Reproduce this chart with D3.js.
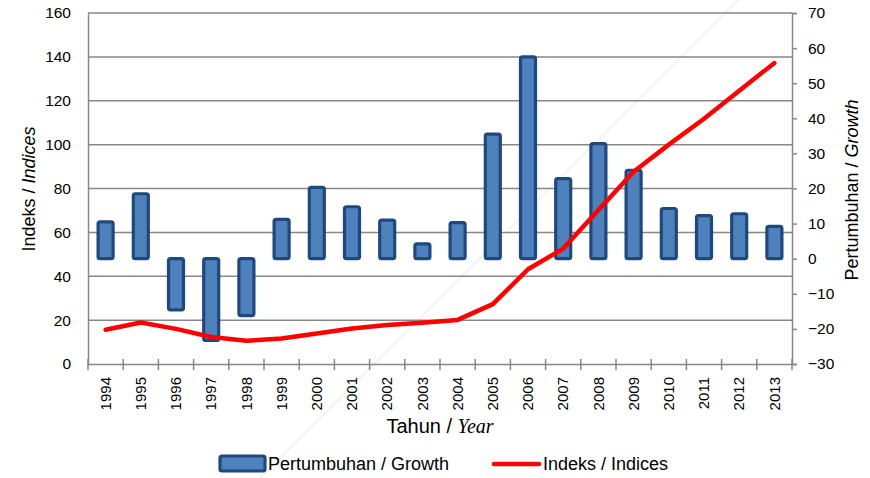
<!DOCTYPE html>
<html>
<head>
<meta charset="utf-8">
<script src="https://cdn.jsdelivr.net/npm/d3@7"></script>
<style>
  body { margin: 0; background: #fff; }
  svg { display: block; font-family: "Liberation Sans", Arial, sans-serif; }
</style>
</head>
<body>
<svg width="870" height="478"></svg>
<script>
// données
var years = ["1994","1995","1996","1997","1998","1999","2000","2001","2002","2003",
             "2004","2005","2006","2007","2008","2009","2010","2011","2012","2013"];
var growth = [10.5, 18.5, -14.6, -23.3, -16.2, 11.2, 20.3, 14.8, 11.0, 4.2,
              10.3, 35.5, 57.5, 22.8, 32.8, 25.2, 14.3, 12.3, 12.8, 9.2];
var indices = [15.6, 18.9, 16.0, 12.3, 10.6, 11.6, 13.9, 16.2, 17.8, 18.8,
               20.1, 27.3, 43.2, 52.6, 70.2, 87.6, 100.0, 111.8, 124.6, 137.2];
var leftTicks = [0, 20, 40, 60, 80, 100, 120, 140, 160];
var rightTicks = [-30, -20, -10, 0, 10, 20, 30, 40, 50, 60, 70];

var svg = d3.select("svg");
var plotLeft = 88, plotRight = 792, plotTop = 13, plotBottom = 364;
var gridColor = "#878787";

var x = d3.scaleBand().domain(years).range([plotLeft, plotRight]);
var yL = d3.scaleLinear().domain([0, 160]).range([plotBottom, plotTop]);
var yR = d3.scaleLinear().domain([-30, 70]).range([plotBottom, plotTop]);

// trait diagonal pâle (artefact du scan)
svg.append("line")
    .attr("x1", 738).attr("y1", 0)
    .attr("x2", 260).attr("y2", 478)
    .attr("stroke", "#ebebeb")
    .attr("stroke-width", 1.2);

// grille horizontale
svg.append("g").selectAll("line")
    .data(leftTicks.slice(1))
    .enter().append("line")
    .attr("x1", plotLeft).attr("x2", plotRight)
    .attr("y1", function(d) { return yL(d); })
    .attr("y2", function(d) { return yL(d); })
    .attr("stroke", gridColor)
    .attr("stroke-width", 1.5);

// axe gauche
var axL = svg.append("g")
    .attr("transform", "translate(" + plotLeft + ",0)")
    .call(d3.axisLeft(yL).tickValues(leftTicks).tickSize(0).tickPadding(17));
axL.select(".domain").attr("stroke", gridColor).attr("stroke-width", 1.5);
axL.selectAll("text").attr("font-size", "15.5px").attr("fill", "#000");

// axe droit
var axR = svg.append("g")
    .attr("transform", "translate(" + plotRight + ",0)")
    .call(d3.axisRight(yR).tickValues(rightTicks).tickSize(5).tickPadding(11));
axR.select(".domain").attr("stroke", gridColor).attr("stroke-width", 1.5);
axR.selectAll(".tick line").attr("stroke", gridColor).attr("stroke-width", 1.5);
axR.selectAll("text").attr("font-size", "15.5px").attr("fill", "#000");

// axe du bas
var axB = svg.append("g")
    .attr("transform", "translate(0," + plotBottom + ")")
    .call(d3.axisBottom(x).tickSize(0).tickPadding(0));
axB.select(".domain").attr("stroke", gridColor).attr("stroke-width", 1.5);
axB.selectAll(".tick line").remove();
axB.selectAll("text")
    .attr("font-size", "15px")
    .attr("fill", "#000")
    .attr("text-anchor", "end")
    .attr("y", 0)
    .attr("dy", "0.35em")
    .attr("transform", "translate(0,13) rotate(-90)");

// petites graduations entre les années
svg.append("g").selectAll("line")
    .data(d3.range(years.length + 1))
    .enter().append("line")
    .attr("x1", function(i) { return plotLeft + i * x.bandwidth(); })
    .attr("x2", function(i) { return plotLeft + i * x.bandwidth(); })
    .attr("y1", plotBottom - 5).attr("y2", plotBottom + 6)
    .attr("stroke", gridColor)
    .attr("stroke-width", 1.5);

// barres de croissance (axe droit)
var barW = 15;
svg.append("g").selectAll("rect")
    .data(growth)
    .enter().append("rect")
    .attr("x", function(d, i) { return x(years[i]) + x.bandwidth() / 2 - barW / 2; })
    .attr("y", function(d) { return Math.min(yR(d), yR(0)); })
    .attr("width", barW)
    .attr("height", function(d) { return Math.abs(yR(d) - yR(0)); })
    .attr("rx", 2)
    .attr("fill", "#4f81bd")
    .attr("stroke", "#1f497d")
    .attr("stroke-width", 3.2);

// courbe des indices (axe gauche)
var line = d3.line()
    .x(function(d, i) { return x(years[i]) + x.bandwidth() / 2; })
    .y(function(d) { return yL(d); });

svg.append("path")
    .datum(indices)
    .attr("d", line)
    .attr("fill", "none")
    .attr("stroke", "#ff0000")
    .attr("stroke-width", 4.5)
    .attr("stroke-linejoin", "round")
    .attr("stroke-linecap", "round");

// titres des axes
var tL = svg.append("text")
    .attr("transform", "translate(35,189) rotate(-90)")
    .attr("text-anchor", "middle")
    .attr("font-size", "18px");
tL.append("tspan").text("Indeks / ");
tL.append("tspan").attr("font-style", "italic").text("Indices");

var tR = svg.append("text")
    .attr("transform", "translate(858,190) rotate(-90)")
    .attr("text-anchor", "middle")
    .attr("font-size", "18px");
tR.append("tspan").text("Pertumbuhan / ");
tR.append("tspan").attr("font-style", "italic").text("Growth");

var tB = svg.append("text")
    .attr("x", 440).attr("y", 433)
    .attr("text-anchor", "middle")
    .attr("font-size", "20px");
tB.append("tspan").text("Tahun / ");
tB.append("tspan")
    .attr("font-family", "'Liberation Serif', 'Times New Roman', serif")
    .attr("font-style", "italic")
    .text("Year");

// légende
var leg = svg.append("g");
leg.append("rect")
    .attr("x", 220).attr("y", 456)
    .attr("width", 45).attr("height", 15)
    .attr("rx", 2)
    .attr("fill", "#4f81bd")
    .attr("stroke", "#1f497d")
    .attr("stroke-width", 3.2);
leg.append("text")
    .attr("x", 268).attr("y", 470)
    .attr("font-size", "18px")
    .text("Pertumbuhan / Growth");
leg.append("line")
    .attr("x1", 494).attr("x2", 539)
    .attr("y1", 464).attr("y2", 464)
    .attr("stroke", "#ff0000")
    .attr("stroke-width", 4.5)
    .attr("stroke-linecap", "round");
leg.append("text")
    .attr("x", 543).attr("y", 470)
    .attr("font-size", "18px")
    .text("Indeks / Indices");
</script>
</body>
</html>
